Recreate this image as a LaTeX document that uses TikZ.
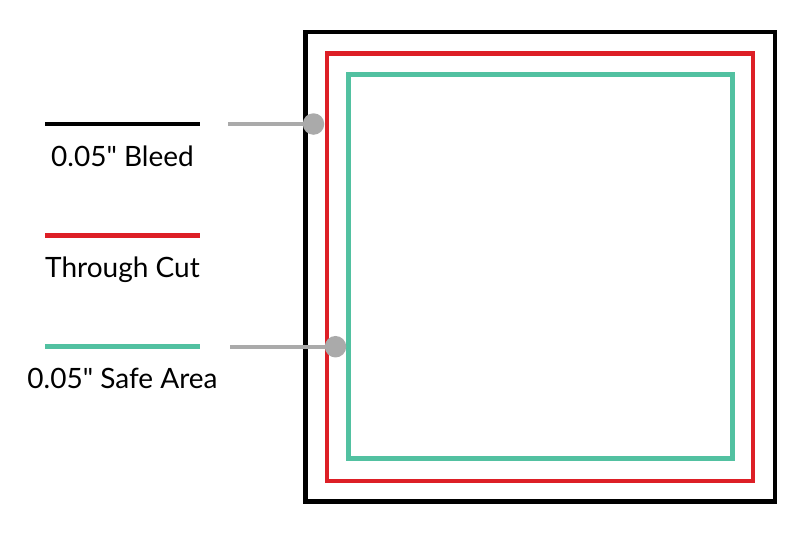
\documentclass[tikz,border=0pt]{standalone}
\usepackage{fontspec}
\setmainfont{Lato}[Ligatures=TeXOff]
\definecolor{cutred}{HTML}{DD1F26}
\definecolor{safeteal}{HTML}{52C1A1}
\definecolor{pingray}{HTML}{AAAAAA}
\begin{document}
\begin{tikzpicture}[x=1pt,y=-1pt,
  frame/.style={line width=4.5pt},
  legline/.style={line width=4.5pt},
  pin/.style={draw=pingray,line width=4pt},
  dot/.style={circle,fill=pingray,minimum size=21.5pt,inner sep=0pt},
  lab/.style={anchor=base,font=\fontsize{28}{33}\selectfont,inner sep=0pt}]
\useasboundingbox (0,0) rectangle (800,536);
% frames
\draw[frame,black] (305.5,32) rectangle (775,501.7);
\draw[frame,cutred] (327,53.5) rectangle (753,481);
\draw[frame,safeteal] (348.3,74.5) rectangle (732.5,458.5);
% legend
\coordinate (bl1) at (45,124); \coordinate (bl2) at (200,124);
\coordinate (rl1) at (45,235.3); \coordinate (rl2) at (200,235.3);
\coordinate (tl1) at (45,346.7); \coordinate (tl2) at (200,346.7);
\draw[legline,black] (bl1) -- (bl2);
\draw[legline,cutred] (rl1) -- (rl2);
\draw[legline,safeteal] (tl1) -- (tl2);
\node[lab] (bleed) at (122.5,166.5) {0.05" Bleed};
\node[lab] (cut) at (122.5,277.5) {Through Cut};
\node[lab] (safe) at (122.5,388) {0.05" Safe Area};
% pins
\coordinate (p1) at (228,124);
\coordinate (p2) at (230,346.7);
\node[dot] (d1) at (313.5,124) {};
\node[dot] (d2) at (335.5,346.7) {};
\draw[pin] (p1) -- (d1.center);
\draw[pin] (p2) -- (d2.center);
\end{tikzpicture}
\end{document}
